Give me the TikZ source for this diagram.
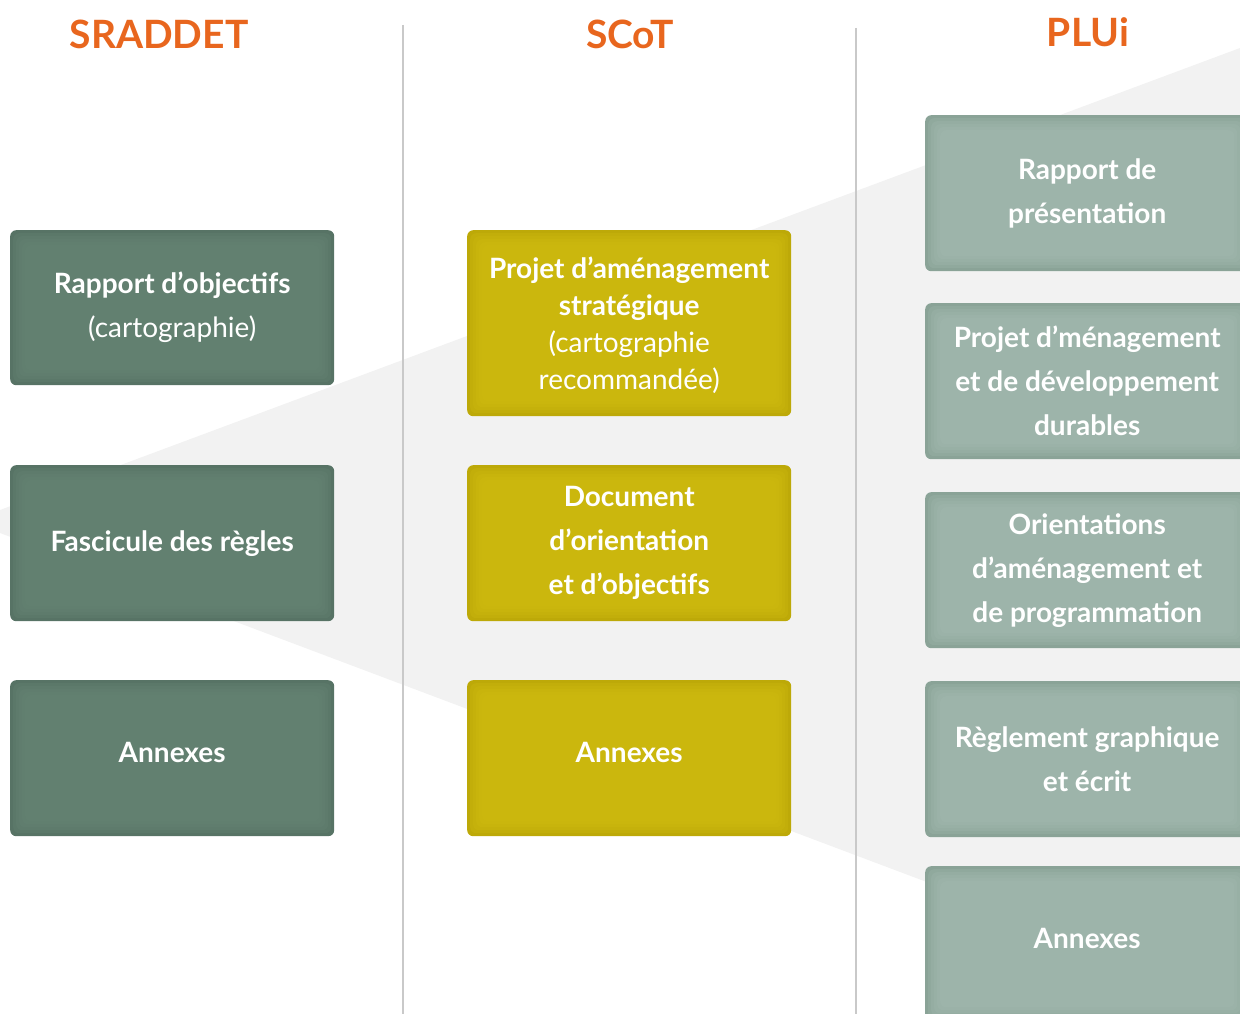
\documentclass[tikz,border=0pt]{standalone}
\usepackage{fontspec}
\setmainfont{Lato}
\definecolor{hdr}{HTML}{E8661E}
\definecolor{sedge}{HTML}{577365}
\definecolor{smid}{HTML}{668575}
\definecolor{cedge}{HTML}{BDA908}
\definecolor{cmid}{HTML}{D0BC10}
\definecolor{pedge}{HTML}{8AA397}
\definecolor{pmid}{HTML}{A3BAB0}
\definecolor{wedgegrey}{HTML}{F2F2F2}
\definecolor{sepgrey}{HTML}{C9C9C9}
\begin{document}
\begin{tikzpicture}[x=1pt,y=-1pt,
  box/.style={rounded corners=6pt, minimum width=324pt, inner sep=0pt, align=center,
    text=white, anchor=north west, font=\fontsize{28}{44}\selectfont\bfseries},
  vig/.style 2 args={fill=#1, path picture={
    \foreach \d in {3,6,9,12,15}{
      \fill[#2,opacity=0.28,rounded corners=6pt]
        ([shift={(\d pt,-\d pt)}]path picture bounding box.north west) rectangle
        ([shift={(-\d pt,\d pt)}]path picture bounding box.south east);}}},
  sbox/.style={box, vig={sedge}{smid}},
  cbox/.style={box, vig={cedge}{cmid}},
  pbox/.style={box, vig={pedge}{pmid}},
  single/.style={text depth=12pt},
  head/.style={text=hdr, font=\fontsize{39}{42}\selectfont\bfseries},
  sep/.style={draw=sepgrey, line width=1.3pt}]
\clip (0,0) rectangle (1240,1014);
\fill[wedgegrey] (0,510) -- (1240,48) -- (1240,1000) -- (0,533) -- cycle;
\coordinate (l1a) at (403,25);  \coordinate (l1b) at (403,1014);
\coordinate (l2a) at (856,28);  \coordinate (l2b) at (856,1014);
\draw[sep] (l1a) -- (l1b);
\draw[sep] (l2a) -- (l2b);
\node[head] (hs) at (159,34) {SRADDET};
\node[head] (hc) at (630,34) {SCoT};
\node[head] (hp) at (1088,32) {PLUi};
% SRADDET
\node[sbox, minimum height=155pt] (s1) at (10,230) {Rapport d’objectifs\\\mdseries(cartographie)};
\node[sbox, minimum height=156pt] (s2) at (10,465) {Fascicule des règles};
\node[sbox, minimum height=156pt, single] (s3) at (10,680) {Annexes};
% SCoT
\node[cbox, minimum height=186pt, font=\fontsize{28}{37}\selectfont\bfseries, text depth=-2pt] (c1) at (467,230)
  {Projet d’aménagement\\stratégique\\\mdseries(cartographie\\\mdseries recommandée)};
\node[cbox, minimum height=156pt] (c2) at (467,465) {Document\\d’orientation\\et d’objectifs};
\node[cbox, minimum height=156pt, single] (c3) at (467,680) {Annexes};
% PLUi
\node[pbox, minimum height=156pt] (p1) at (925,115) {Rapport de\\présentation};
\node[pbox, minimum height=156pt] (p2) at (925,303) {Projet d’ménagement\\et de développement\\durables};
\node[pbox, minimum height=156pt] (p3) at (925,492) {Orientations\\d’aménagement et\\de programmation};
\node[pbox, minimum height=156pt] (p4) at (925,681) {Règlement graphique\\et écrit};
\node[pbox, minimum height=156pt, single] (p5) at (925,866) {Annexes};
\end{tikzpicture}
\end{document}
